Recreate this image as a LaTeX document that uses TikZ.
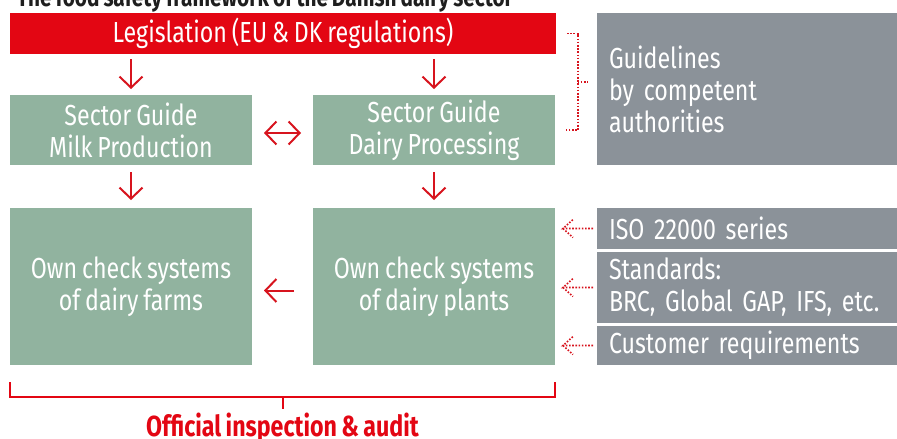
\documentclass[tikz,border=0pt]{standalone}
\usepackage{fontspec}
\setmainfont{Fira Sans}[FakeStretch=0.8, WordSpace=0.8]
\usepackage{xcolor}
\usepackage{tikz}
\usetikzlibrary{positioning,arrows.meta}
\definecolor{legred}{HTML}{E30613}
\definecolor{arrred}{HTML}{D7141E}
\definecolor{guidegreen}{HTML}{91B39F}
\definecolor{stdgray}{HTML}{8B9299}
\definecolor{titlegray}{HTML}{1E1E1E}

\begin{document}
\begin{tikzpicture}[x=1pt, y=-1pt, node distance=41pt and 61pt, >={Straight Barb[length=11pt,width=23pt]},
    boxtext/.style={font=\fontsize{29}{32}\selectfont, text=white, outer sep=0pt, inner sep=0pt},
    legbox/.style={boxtext, fill=legred, minimum width=546pt, minimum height=41pt, align=center},
    greenbox/.style={boxtext, fill=guidegreen, minimum width=242pt, align=center},
    graybox/.style={boxtext, fill=stdgray, text width=276pt, inner xsep=12pt, align=left},
    arr/.style={->, draw=arrred, line width=2pt},
    dotline/.style={draw=arrred, line width=1.6pt, dash pattern=on 1.6pt off 1.6pt},
    dotarr/.style={dotline, to path={-- (\tikztotarget) -- ++(10,-9) (\tikztotarget) -- ++(10,9)}},
    brk/.style={draw=legred, line width=2pt}]

    \useasboundingbox (0,0) rectangle (897,439);

    % Title, cut off at the top
    \node[anchor=base, font=\bfseries\fontsize{26}{32}\selectfont, text=titlegray] (title) at (265,6) {The food safety framework of the Danish dairy sector};

    % Define the boxes
    \node[legbox, anchor=north west] (leg) at (10,13) {Legislation (EU \& DK regulations)};
    \node[greenbox, minimum height=70pt, below right=41pt and 0pt of leg.south west] (sgmilk) {Sector Guide\\Milk Production};
    \node[greenbox, minimum height=70pt, right=of sgmilk] (sgdairy) {Sector Guide\\Dairy Processing};
    \node[greenbox, minimum height=157pt, below=43pt of sgmilk] (ownfarm) {Own check systems\\of dairy farms};
    \node[greenbox, minimum height=157pt, right=of ownfarm] (ownplant) {Own check systems\\of dairy plants};

    \node[graybox, minimum height=152pt, below right=0pt and 41pt of leg.north east] (guide) {Guidelines\\by competent\\authorities};
    \node[graybox, minimum height=41pt, right=42pt of ownplant.north east, anchor=north west] (iso) {ISO 22000 series};
    \node[graybox, minimum height=71pt, below=3pt of iso] (std) {Standards:\\BRC, Global GAP, IFS, etc.};
    \node[graybox, minimum height=39pt, below=3pt of std] (cust) {Customer requirements};

    % Red arrows
    \draw[arr, shorten <=5pt, shorten >=6pt] (leg.south -| sgmilk) -- (sgmilk.north);
    \draw[arr, shorten <=5pt, shorten >=6pt] (leg.south -| sgdairy) -- (sgdairy.north);
    \draw[arr, shorten <=7pt, shorten >=8pt] (sgmilk.south) -- (ownfarm.north);
    \draw[arr, shorten <=7pt, shorten >=8pt] (sgdairy.south) -- (ownplant.north);
    \draw[arr, <->, shorten <=12pt, shorten >=12pt] ([yshift=-3pt]sgmilk.east) -- ([yshift=-3pt]sgdairy.west);
    \draw[arr, shorten <=19pt, shorten >=12pt] ([yshift=-4pt]ownplant.west) -- ([yshift=-4pt]ownfarm.east);

    % Dotted bracket to the guidelines
    \draw[dotline] ([xshift=11pt]leg.east) -- ++(11,0) |- ([xshift=11pt]sgdairy.east);
    \path ([xshift=22pt]leg.east) -- ([xshift=22pt]sgdairy.east) coordinate[midway] (brmid);
    \draw[dotline, shorten >=9pt] (brmid) -- (brmid -| guide.west);

    % Dotted arrows from the standards
    \draw[dotarr] ([xshift=-4pt]iso.west) to ([xshift=-34pt]iso.west);
    \draw[dotarr] ([xshift=-4pt]std.west) to ([xshift=-34pt]std.west);
    \draw[dotarr] ([xshift=-4pt]cust.west) to ([xshift=-34pt]cust.west);

    % Bracket for inspection
    \draw[brk] ([yshift=-17pt]ownfarm.south west) -- ++(0,15) -| ([yshift=-17pt]ownplant.south east);
    \path ([yshift=-32pt]ownfarm.south west) -- ([yshift=-32pt]ownplant.south east) coordinate[midway] (brbot);
    \draw[brk] (brbot) -- ++(0,12);
    \node[anchor=base, font=\bfseries\fontsize{29}{32}\selectfont, text=legred] (insp) at ([yshift=-39pt]brbot) {Official inspection \& audit};
\end{tikzpicture}
\end{document}
